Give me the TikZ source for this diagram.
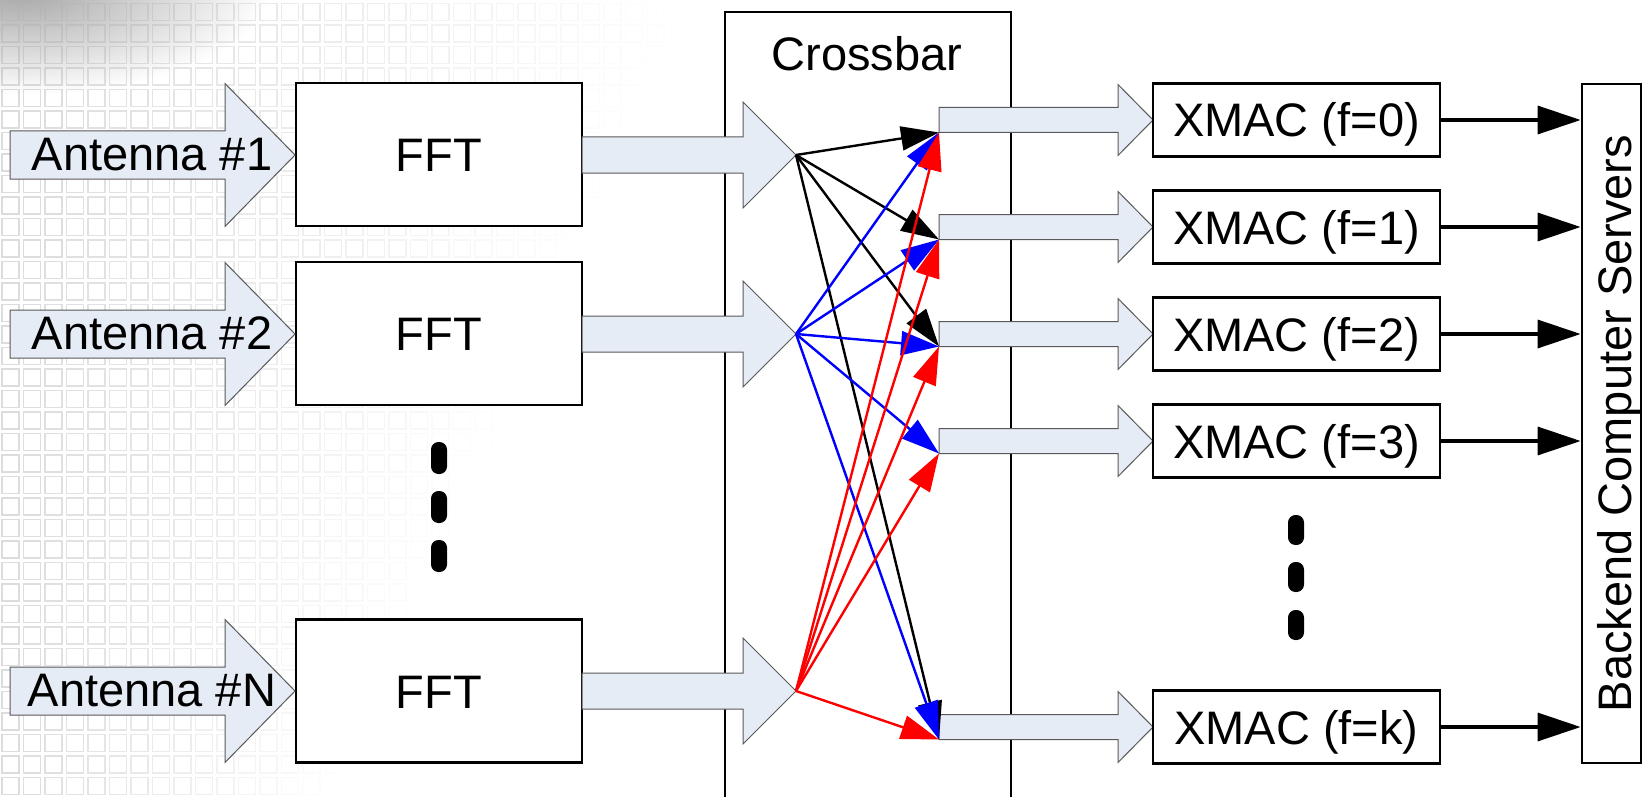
\documentclass[tikz,border=0pt]{standalone}
\usepackage{fontspec}
\setmainfont{Liberation Sans}
\usetikzlibrary{arrows.meta}
\definecolor{arrfill}{RGB}{230,236,246}
\definecolor{xred}{RGB}{255,0,0}
\definecolor{xblue}{RGB}{0,0,255}
\newcommand\blkarrow[6]{%
  \filldraw[blockarrow] (#1,#4-#5) -- (#2,#4-#5) -- (#2,#4-#6) -- (#3,#4) -- (#2,#4+#6) -- (#2,#4+#5) -- (#1,#4+#5) -- cycle;}
\tikzset{
  blockarrow/.style={fill=arrfill, draw=black!65, line width=1pt, line join=miter},
  boxnode/.style={draw, fill=white, line width=2.8pt, inner sep=0pt, text height=34pt, text depth=0pt},
  fan/.style={line width=2.4pt, -{Triangle[length=38pt,width=24pt]}},
  outarrow/.style={line width=3.4pt, -{Triangle[length=43pt,width=28pt]}},
  dotmark/.style={fill=black, rounded corners=7.5pt},
  lbl/.style={inner sep=0pt, anchor=base}
}
\begin{document}
\begin{tikzpicture}[x=1pt,y=-1pt,font=\fontsize{47}{52}\selectfont]
\useasboundingbox (0,0) rectangle (1643,797);
\fill[white] (0,0) rectangle (1643,797);
% background
\shade[inner color=gray!70, outer color=white] (20,-10) ellipse [x radius=250, y radius=105];
\foreach \i in {0,...,33} {
  \foreach \j in {0,...,37} {
    \pgfmathsetmacro\xx{2+21.5*\i}
    \pgfmathsetmacro\yy{3.5+21.5*\j}
    \pgfmathsetmacro\op{max(0,min(1,1-\xx/(680-0.45*\yy)))*0.45}
    \draw[gray!60, line width=1.2pt, opacity=\op] (\xx,\yy) rectangle ++(17,17);
  }
}
% crossbar
\draw[line width=2.6pt] (725,800) |- (1011,12) -- (1011,800);
\node[lbl] (cb) at (867,71) {Crossbar};
% FFT boxes
\node[boxnode, minimum width=286pt, minimum height=143pt] (fft1) at (439,154.5) {FFT};
\node[boxnode, minimum width=286pt, minimum height=143pt] (fft2) at (439,333.5) {FFT};
\node[boxnode, minimum width=286pt, minimum height=143pt] (fftn) at (439,691) {FFT};
% antenna arrows
\blkarrow{10}{225}{295}{155}{24}{71.5}
\blkarrow{10}{225}{295}{334}{24}{71.5}
\blkarrow{10}{225}{295}{691}{24}{71.5}
\node[lbl] (a1) at (152,170) {Antenna \#1};
\node[lbl] (a2) at (152,349) {Antenna \#2};
\node[lbl] (an) at (152,706) {Antenna \#N};
% FFT -> crossbar arrows
\blkarrow{582}{743}{796}{155}{18}{53}
\blkarrow{582}{743}{796}{334}{18}{53}
\blkarrow{582}{743}{796}{691}{18}{53}
% output arrows
\blkarrow{939}{1118}{1153}{120}{12.5}{35.5}
\blkarrow{939}{1118}{1153}{227}{12.5}{35.5}
\blkarrow{939}{1118}{1153}{334}{12.5}{35.5}
\blkarrow{939}{1118}{1153}{441}{12.5}{35.5}
\blkarrow{939}{1118}{1153}{727}{12.5}{35.5}
% XMAC boxes
\node[boxnode, minimum width=287pt, minimum height=73pt] (x0) at (1296.5,120) {XMAC (f=0)};
\node[boxnode, minimum width=287pt, minimum height=73pt] (x1) at (1296.5,227) {XMAC (f=1)};
\node[boxnode, minimum width=287pt, minimum height=73pt] (x2) at (1296.5,334) {XMAC (f=2)};
\node[boxnode, minimum width=287pt, minimum height=73pt] (x3) at (1296.5,441) {XMAC (f=3)};
\node[boxnode, minimum width=287pt, minimum height=73pt] (xk) at (1296.5,727) {XMAC (f=k)};
% backend
\node[draw, fill=white, line width=2.8pt, rotate=90, inner sep=0pt, minimum width=679pt, minimum height=59pt, text height=40pt, text depth=0pt] (be) at (1611.5,423.5) {Backend Computer Servers};
\foreach \n in {x0,x1,x2,x3,xk} {
  \draw[outarrow] (\n.east) -- (be.north |- \n.east);
}
% dots
\fill[dotmark] (431,442) rectangle (447,474);
\fill[dotmark] (431,491) rectangle (447,523);
\fill[dotmark] (431,540) rectangle (447,572);
\fill[dotmark] (1288,515) rectangle (1304,545);
\fill[dotmark] (1288,562) rectangle (1304,592);
\fill[dotmark] (1288,610) rectangle (1304,640);
% fan coordinates
\coordinate (s1) at (796,155);
\coordinate (s2) at (796,334);
\coordinate (sn) at (796,691);
\coordinate (t0) at (939,132.5);
\coordinate (t1) at (939,239.5);
\coordinate (t2) at (939,346.5);
\coordinate (t3) at (939,453.5);
\coordinate (tk) at (939,739.5);
\foreach \t in {t0,t1,t2,tk} { \draw[fan, black] (s1) -- (\t); }
\foreach \t in {t0,t1,t2,t3,tk} { \draw[fan, xblue] (s2) -- (\t); }
\foreach \t in {t0,t1,t2,t3,tk} { \draw[fan, xred] (sn) -- (\t); }
\end{tikzpicture}
\end{document}
